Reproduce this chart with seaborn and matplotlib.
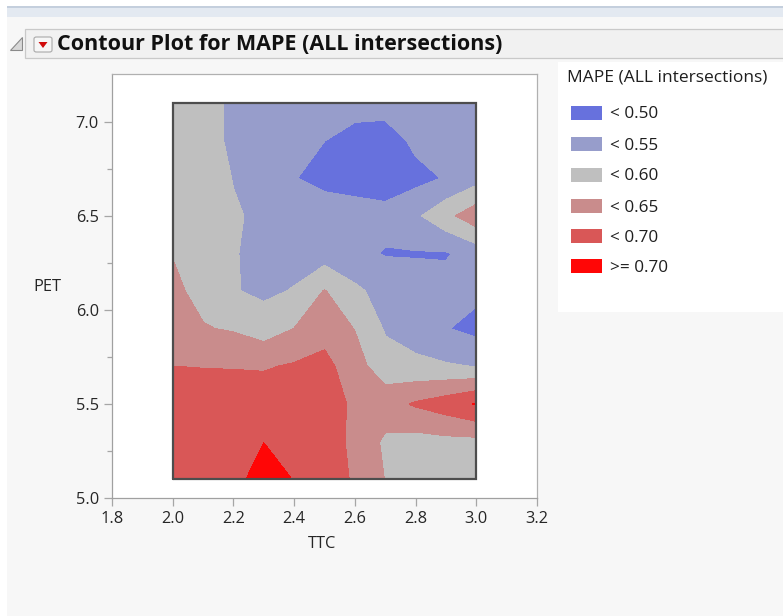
import numpy as np
import pandas as pd
import seaborn as sns
import matplotlib
matplotlib.use("Agg")
import matplotlib.pyplot as plt
from matplotlib.patches import Rectangle, Polygon, FancyBboxPatch

# ---- data -------------------------------------------------------------
ttc = [2.0, 2.1, 2.2, 2.3, 2.4, 2.5, 2.6, 2.7, 2.8, 2.9, 3.0]
pet = [7.1, 6.9, 6.7, 6.5, 6.3, 6.1, 5.9, 5.7, 5.5, 5.3, 5.1]

# MAPE (ALL intersections) on the TTC x PET grid, one list per PET row
mape_pet_7_1 = [.585, .570, .540, .535, .530, .525, .520, .520, .520, .530, .535]
mape_pet_6_9 = [.590, .570, .540, .530, .515, .500, .480, .475, .510, .525, .535]
mape_pet_6_7 = [.590, .575, .548, .525, .502, .480, .475, .478, .485, .503, .530]
mape_pet_6_5 = [.585, .575, .555, .540, .530, .535, .525, .513, .540, .585, .630]
mape_pet_6_3 = [.598, .580, .553, .535, .530, .525, .510, .497, .496, .495, .520]
mape_pet_6_1 = [.610, .585, .553, .540, .553, .602, .560, .530, .525, .520, .510]
mape_pet_5_9 = [.615, .603, .595, .575, .600, .630, .598, .545, .530, .502, .485]
mape_pet_5_7 = [.650, .648, .647, .645, .655, .665, .620, .570, .560, .555, .548]
mape_pet_5_5 = [.680, .680, .680, .680, .680, .675, .640, .630, .655, .675, .703]
mape_pet_5_3 = [.675, .680, .685, .699, .680, .670, .640, .590, .580, .585, .585]
mape_pet_5_1 = [.670, .680, .685, .720, .698, .670, .645, .598, .580, .575, .575]

level_bounds = [0.40, 0.50, 0.55, 0.60, 0.65, 0.70, 0.80]
level_labels = ["< 0.50", "< 0.55", "< 0.60", "< 0.65", "< 0.70", ">= 0.70"]
level_colors = ["#6771DD", "#979DCB", "#BFBFBF", "#C98C8C", "#D95757", "#FF0606"]

x_ticks = [1.8, 2.0, 2.2, 2.4, 2.6, 2.8, 3.0, 3.2]
y_ticks = [5.0, 5.5, 6.0, 6.5, 7.0]

# ---- tidy table -> grid --------------------------------------------
rows = [mape_pet_7_1, mape_pet_6_9, mape_pet_6_7, mape_pet_6_5, mape_pet_6_3,
        mape_pet_6_1, mape_pet_5_9, mape_pet_5_7, mape_pet_5_5, mape_pet_5_3,
        mape_pet_5_1]
records = [(t, p, v) for p, r in zip(pet, rows) for t, v in zip(ttc, r)]
df = pd.DataFrame(records, columns=["TTC", "PET", "MAPE"])
grid = df.pivot(index="PET", columns="TTC", values="MAPE").sort_index()

# ---- figure -------------------------------------------------------------
sns.set_theme(style="ticks")
FONT = ["Open Sans", "DejaVu Sans"]
plt.rcParams["font.family"] = FONT

W, H = 783, 616
fig = plt.figure(figsize=(W / 100, H / 100), dpi=100)
fig.patch.set_facecolor("#F7F7F7")


def fx(x):
    return x / W


def fy(y):
    return 1 - y / H


def frect(x0, y0, x1, y1, **kw):
    fig.patches.append(Rectangle((fx(x0), fy(y1)), fx(x1) - fx(x0), fy(y0) - fy(y1),
                                 transform=fig.transFigure, **kw))


# window chrome
frect(0, 0, 7, H, facecolor="white", edgecolor="none")
frect(0, 0, W, 6, facecolor="white", edgecolor="none")
frect(7, 6, W, 8, facecolor="#C4CFDD", edgecolor="none")
frect(7, 8, W, 17, facecolor="#E3E9F1", edgecolor="none")
frect(25, 29, W + 2, 58, facecolor="#F1F1F1", edgecolor="#C9C9C9", linewidth=0.9)

# disclosure triangle
fig.patches.append(Polygon([(fx(22), fy(37)), (fx(22), fy(50)), (fx(10), fy(50))],
                           closed=True, transform=fig.transFigure,
                           facecolor="#D8D8D8", edgecolor="#8A8A8A", linewidth=0.8))
# red drop-down button
fig.patches.append(FancyBboxPatch((fx(34), fy(52)), fx(52) - fx(34), fy(37) - fy(52),
                                  boxstyle="round,pad=0,rounding_size=0.003",
                                  transform=fig.transFigure,
                                  facecolor="#F6F6F6", edgecolor="#A9A9A9", linewidth=0.8))
fig.patches.append(Polygon([(fx(38.5), fy(42)), (fx(47.5), fy(42)), (fx(43), fy(48))],
                           closed=True, transform=fig.transFigure,
                           facecolor="#D00A0A", edgecolor="none"))

title = fig.text(fx(57), fy(44), "Contour Plot for MAPE (ALL intersections)",
                 fontsize=13.5, fontweight="bold", color="#111111",
                 ha="left", va="center", family=FONT)

# ---- contour axes -------------------------------------------------------
ax = fig.add_axes([fx(112), fy(498), fx(537) - fx(112), fy(74) - fy(498)])
ax.set_facecolor("white")
cs = ax.contourf(grid.columns.values, grid.index.values, grid.values,
                 levels=level_bounds, colors=level_colors)
cs.set_edgecolor("face")
cs.set_linewidth(0.6)

# border around the sampled region
x0, x1 = min(ttc), max(ttc)
y0, y1 = min(pet), max(pet)
ax.plot([x0, x1, x1, x0, x0], [y0, y0, y1, y1, y0], color="#4D4D4D", linewidth=1.6,
        solid_joinstyle="miter")

ax.set_xlim(1.8, 3.2)
ax.set_ylim(5.0, 7.255)
ax.set_xticks(x_ticks)
ax.set_xticklabels([f"{v:.1f}" for v in x_ticks])
ax.set_yticks(y_ticks)
ax.set_yticklabels([f"{v:.1f}" for v in y_ticks])
ax.set_yticks([5.25, 5.75, 6.25, 6.75], minor=True)
ax.tick_params(axis="both", which="major", direction="out", length=6, width=0.9,
               color="#A6A6A6", labelsize=11.8, labelcolor="#262626", pad=3.5)
ax.tick_params(axis="y", which="minor", direction="out", length=3.5, width=0.9,
               color="#A6A6A6")
for s in ax.spines.values():
    s.set_color("#B0B0B0")
    s.set_linewidth(0.9)
ax.spines["left"].set_color("#A0A0A0")
ax.spines["bottom"].set_color("#A0A0A0")

fig.text(fx(33), fy(287), "PET", fontsize=11.8, color="#262626", ha="left", va="center")
fig.text(fx(322), fy(544), "TTC", fontsize=11.8, color="#262626", ha="center", va="center")

# ---- legend -----------------------------------------------------------
frect(558, 62, W + 2, 312, facecolor="white", edgecolor="none")
leg_title = fig.text(fx(567), fy(77), "MAPE (ALL intersections)", fontsize=10.8,
                     color="#1E1E1E", ha="left", va="center")
swatch_y = [113, 144, 175, 206, 236, 266]
for yc, lab, col in zip(swatch_y, level_labels, level_colors):
    frect(571, yc - 7, 602, yc + 7, facecolor=col, edgecolor="none")
    fig.text(fx(610), fy(yc + 1.5), lab, fontsize=12.3, color="#1E1E1E",
             ha="left", va="center")

# fit the two headline texts to their boxes
fig.canvas.draw()
r = fig.canvas.get_renderer()
for t, target in [(title, 446), (leg_title, 200)]:
    w = t.get_window_extent(r).width
    t.set_fontsize(t.get_fontsize() * target / w)

fig.savefig("out.png", dpi=100, facecolor=fig.get_facecolor())
